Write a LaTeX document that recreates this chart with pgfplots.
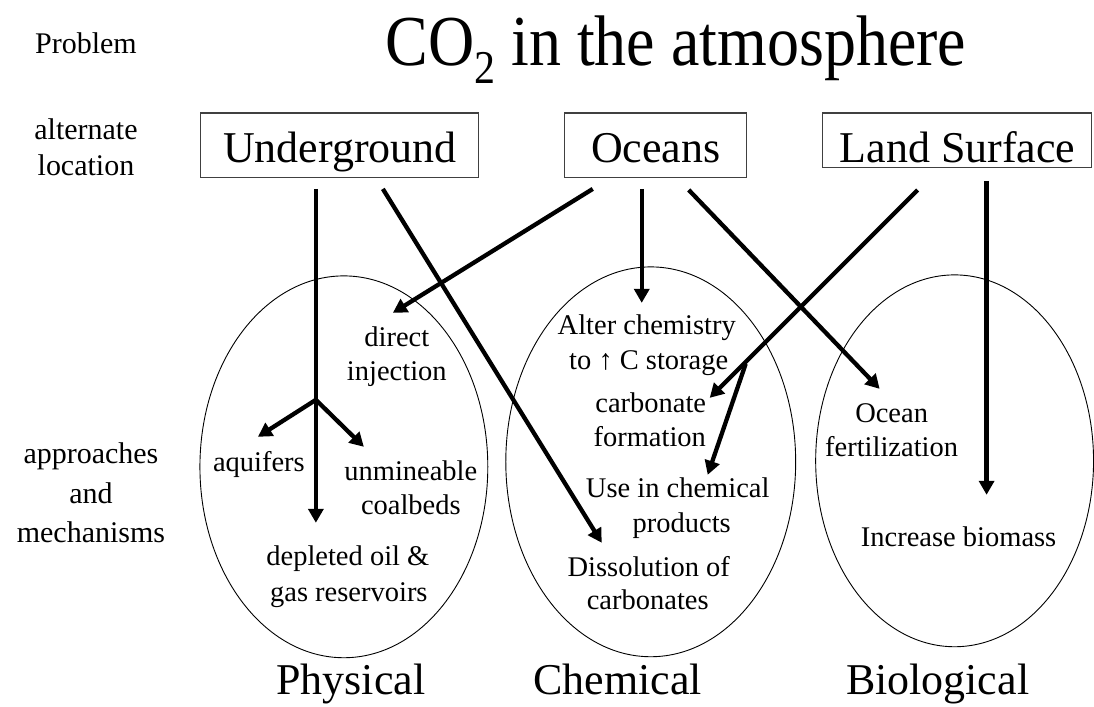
\documentclass[border=0pt]{standalone}
\usepackage{fontspec}
\setmainfont{Liberation Serif}
\usepackage{graphicx}
\usepackage{pgfplots}
\pgfplotsset{compat=1.18}
\usetikzlibrary{arrows.meta}
\begin{document}
\begin{tikzpicture}[
  arr/.style={black,line width=4.3bp,-{Triangle[length=14bp,width=15bp]}},
  st/.style={font=\fontsize{28.5bp}{33bp}\selectfont,anchor=base,inner sep=0pt},
  lt/.style={font=\fontsize{30bp}{34bp}\selectfont,anchor=base,inner sep=0pt},
  bt/.style={font=\fontsize{44bp}{50bp}\selectfont,anchor=base,inner sep=0pt},
  ell/.style={black,line width=0.9bp},
  bx/.style={black!75,line width=1.1bp}
]
\begin{axis}[width=1094bp,height=707bp,scale only axis,
  xmin=0,xmax=1094,ymin=0,ymax=707,y dir=reverse,
  hide axis,clip=false]
\path (axis cs:0,0) rectangle (axis cs:1094,707);

% ellipses
\draw[ell] (axis cs:344,467) ellipse [x radius=144bp, y radius=191bp];
\draw[ell] (axis cs:651,462) ellipse [x radius=145bp, y radius=195bp];
\draw[ell] (axis cs:955,461) ellipse [x radius=139bp, y radius=186bp];

% boxes
\draw[bx] (axis cs:201,113) rectangle (axis cs:479,178);
\draw[bx] (axis cs:565,113) rectangle (axis cs:747,178);
\draw[bx] (axis cs:823,113) rectangle (axis cs:1092,168);

% title and left labels
\node[anchor=base,inner sep=0pt,font=\fontsize{64bp}{70bp}\selectfont] at (axis cs:676,66)
  {\scalebox{1}[1.12]{CO\raisebox{-0.25em}{\fontsize{42bp}{42bp}\selectfont 2} in the atmosphere}};
\node[lt] at (axis cs:86,54) {Problem};
\node[lt] at (axis cs:86,140) {alternate};
\node[lt] at (axis cs:86,176) {location};
\node[lt] at (axis cs:91,464) {approaches};
\node[lt] at (axis cs:91,504) {and};
\node[lt] at (axis cs:91,543) {mechanisms};

% box labels
\node[bt] at (axis cs:340,163) {Underground};
\node[bt] at (axis cs:656,163) {Oceans};
\node[bt] at (axis cs:958,163) {Land Surface};

% bottom labels
\node[bt] at (axis cs:351,695) {Physical};
\node[bt] at (axis cs:618,695) {Chemical};
\node[bt] at (axis cs:938,695) {Biological};

% arrows
\addplot[arr] coordinates {(316,189) (316,523)};
\addplot[arr] coordinates {(316,400) (258,437)};
\addplot[arr] coordinates {(316,400) (364,447)};
\addplot[arr] coordinates {(383,189) (602,543)};
\addplot[arr] coordinates {(593,189) (393,313)};
\addplot[arr] coordinates {(642,189) (642,303)};
\addplot[arr] coordinates {(689,190) (880,389)};
\addplot[arr] coordinates {(918,190) (710,398)};
\addplot[arr] coordinates {(746,364) (708,475)};
\addplot[arr] coordinates {(987,181) (987,495)};

% physical texts
\node[st] at (axis cs:397,347) {direct};
\node[st] at (axis cs:397,381) {injection};
\node[st] at (axis cs:259,472) {aquifers};
\node[st] at (axis cs:411,481) {unmineable};
\node[st] at (axis cs:411,515) {coalbeds};
\node[st] at (axis cs:348,566) {depleted oil \&};
\node[st] at (axis cs:349,602) {gas reservoirs};

% chemical texts
\node[st] at (axis cs:647,335) {Alter chemistry};
\node[st] at (axis cs:649,370) {to ↑ C storage};
\node[st] at (axis cs:651,413) {carbonate};
\node[st] at (axis cs:650,447) {formation};
\node[st] at (axis cs:678,498) {Use in chemical};
\node[st] at (axis cs:682,533) {products};
\node[st] at (axis cs:649,577) {Dissolution of};
\node[st] at (axis cs:648,610) {carbonates};

% biological texts
\node[st] at (axis cs:892,423) {Ocean};
\node[st] at (axis cs:892,457) {fertilization};
\node[st] at (axis cs:959,547) {Increase biomass};
\end{axis}
\end{tikzpicture}
\end{document}
